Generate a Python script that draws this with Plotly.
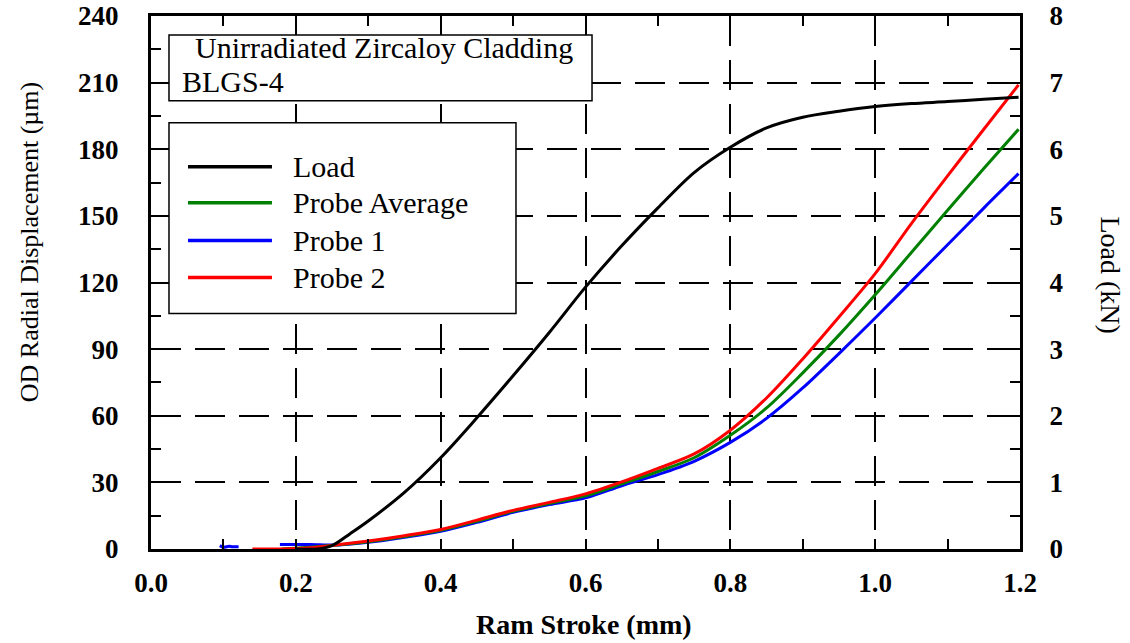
import plotly.graph_objects as go

# ---------------- data ----------------
stroke_load = [0.20, 0.229, 0.25, 0.275, 0.30, 0.35, 0.40, 0.45, 0.50, 0.55, 0.60, 0.65,
               0.70, 0.75, 0.80, 0.85, 0.90, 0.95, 1.00, 1.05, 1.10, 1.15, 1.198]
load_kn = [0.0, 0.0, 0.05, 0.23, 0.42, 0.85, 1.37, 1.97, 2.6, 3.25, 3.93, 4.55,
           5.12, 5.65, 6.03, 6.32, 6.48, 6.57, 6.64, 6.685, 6.715, 6.75, 6.78]

stroke_probe = [0.18, 0.22, 0.26, 0.30, 0.35, 0.40, 0.45, 0.50, 0.55, 0.60, 0.65, 0.70,
                0.75, 0.80, 0.85, 0.90, 0.95, 1.00, 1.05, 1.10, 1.15, 1.198]
probe_avg = [0.0, 0.8, 1.9, 3.3, 5.6, 8.4, 12.5, 17.0, 20.5, 23.9, 29.3, 34.9,
             41.1, 51.2, 63.5, 79.3, 96.3, 114.5, 133.5, 152.5, 171.3, 189.0]

stroke_p1 = [0.095, 0.100, 0.108, 0.112, 0.121, None, 0.178, 0.20, 0.22, 0.26, 0.30, 0.35, 0.40,
             0.45, 0.50, 0.55, 0.60, 0.65, 0.70, 0.75, 0.80, 0.85, 0.90, 0.95, 1.00,
             1.05, 1.10, 1.15, 1.198]
probe_1 = [1.5, 0.8, 1.2, 1.0, 1.0, None, 2.0, 2.0, 2.0, 1.8, 3.0, 5.3, 8.0,
           12.0, 16.5, 20.0, 23.0, 28.5, 33.5, 39.5, 48.0, 58.8, 72.5, 88.0, 104.0,
           120.5, 137.0, 153.5, 169.0]

stroke_p2 = [0.14, 0.18, 0.22, 0.26, 0.30, 0.35, 0.40, 0.45, 0.50, 0.55, 0.60, 0.65,
             0.70, 0.75, 0.80, 0.85, 0.90, 0.95, 1.00, 1.05, 1.10, 1.15, 1.198]
probe_2 = [0.0, 0.0, 0.6, 2.0, 3.6, 6.0, 8.8, 13.0, 17.4, 21.0, 24.8, 30.2,
           36.3, 42.8, 53.5, 68.0, 85.6, 104.5, 124.0, 146.5, 168.0, 189.0, 209.0]

series_names = ["Load", "Probe Average", "Probe 1", "Probe 2"]
series_colors = ["#000000", "#008000", "#0000FF", "#FF0000"]

x_ticks = [0.0, 0.2, 0.4, 0.6, 0.8, 1.0, 1.2]
y_ticks = [0, 30, 60, 90, 120, 150, 180, 210, 240]
y2_ticks = [0, 1, 2, 3, 4, 5, 6, 7, 8]

title_line1 = "Unirradiated Zircaloy Cladding"
title_line2 = "BLGS-4"
x_title = "Ram Stroke (mm)"
y_title = "OD Radial Displacement (µm)"
y2_title = "Load (kN)"

# ---------------- figure ----------------
FONT = "Liberation Serif"
LW = 3
SPL = dict(shape="spline", smoothing=0.9)

fig = go.Figure()
fig.add_trace(go.Scatter(x=stroke_p1, y=probe_1, mode="lines", name=series_names[2],
                         line=dict(color=series_colors[2], width=LW, **SPL), connectgaps=False))
fig.add_trace(go.Scatter(x=stroke_probe, y=probe_avg, mode="lines", name=series_names[1],
                         line=dict(color=series_colors[1], width=LW, **SPL)))
fig.add_trace(go.Scatter(x=stroke_p2, y=probe_2, mode="lines", name=series_names[3],
                         line=dict(color=series_colors[3], width=LW, **SPL)))
fig.add_trace(go.Scatter(x=stroke_load, y=load_kn, mode="lines", name=series_names[0],
                         line=dict(color=series_colors[0], width=LW, **SPL), yaxis="y2"))

tickfont = dict(family=FONT, size=27, color="black", weight="bold")
grid = dict(showgrid=True, gridcolor="black", gridwidth=1.5, griddash="30px,14px")
tk = dict(ticks="inside", ticklen=10, tickwidth=2, tickcolor="black")

fig.update_layout(
    width=1130, height=643,
    margin=dict(l=151, r=110, t=16, b=94, autoexpand=False),
    paper_bgcolor="white", plot_bgcolor="white",
    showlegend=False,
    xaxis=dict(range=[0, 1.2], tickvals=x_ticks, tickformat=".1f", **tk,
               minor=dict(dtick=0.1, **tk),
               showline=True, linecolor="black", linewidth=3, mirror="allticks",
               tickfont=tickfont, ticklabelstandoff=8, ticklabeloverflow="allow",
               zeroline=False, **grid),
    yaxis=dict(range=[0, 240], tickvals=y_ticks, **tk,
               minor=dict(dtick=15, **tk),
               showline=True, linecolor="black", linewidth=3, mirror=False,
               tickfont=tickfont, ticklabelstandoff=24, ticklabeloverflow="allow",
               zeroline=False, **grid),
    yaxis2=dict(range=[0, 8], tickvals=y2_ticks, overlaying="y", side="right", **tk,
                minor=dict(dtick=0.5, **tk),
                showline=True, linecolor="black", linewidth=3, showgrid=False,
                tickfont=tickfont, ticklabelstandoff=21, ticklabeloverflow="allow",
                zeroline=False),
)

# axis titles
fig.add_annotation(text=x_title, xref="paper", yref="paper", x=0.498, y=-0.142,
                   xanchor="center", yanchor="middle", showarrow=False,
                   font=dict(family=FONT, size=28, color="black", weight="bold"))
fig.add_annotation(text=y_title, xref="paper", yref="paper", x=-0.139, y=0.576,
                   xanchor="center", yanchor="middle", textangle=-90, showarrow=False,
                   font=dict(family=FONT, size=26, color="black"))
fig.add_annotation(text=y2_title, xref="paper", yref="paper", x=1.1036, y=0.515,
                   xanchor="center", yanchor="middle", textangle=90, showarrow=False,
                   font=dict(family=FONT, size=28, color="black"))

# title box
fig.add_shape(type="rect", xref="paper", yref="paper",
              x0=0.0207, x1=0.5075, y0=0.8408, y1=0.9644,
              line=dict(color="black", width=1.5), fillcolor="white", layer="above")
fig.add_annotation(text=title_line1, xref="paper", yref="paper", x=0.0483, y=0.94,
                   xanchor="left", yanchor="middle", showarrow=False,
                   font=dict(family=FONT, size=30, color="black"))
fig.add_annotation(text=title_line2, xref="paper", yref="paper", x=0.0334, y=0.8765,
                   xanchor="left", yanchor="middle", showarrow=False,
                   font=dict(family=FONT, size=30, color="black"))

# legend box (drawn manually to match the long line samples)
fig.add_shape(type="rect", xref="paper", yref="paper",
              x0=0.0207, x1=0.42, y0=0.4419, y1=0.7996,
              line=dict(color="black", width=1.5), fillcolor="white", layer="above")
legend_y = [0.7172, 0.6498, 0.5787, 0.5094]
for name, color, ly in zip(series_names, series_colors, legend_y):
    fig.add_shape(type="line", xref="paper", yref="paper", x0=0.0426, x1=0.1392, y0=ly, y1=ly,
                  line=dict(color=color, width=3.5), layer="above")
    fig.add_annotation(text=name, xref="paper", yref="paper", x=0.1611, y=ly,
                       xanchor="left", yanchor="middle", showarrow=False,
                       font=dict(family=FONT, size=30, color="black"))

# remove the default 8px page margin so the 1130x643 figure fills the window exactly
fig.write_html("out.html", config={"displayModeBar": False},
               post_script="document.body.style.margin='0';")
